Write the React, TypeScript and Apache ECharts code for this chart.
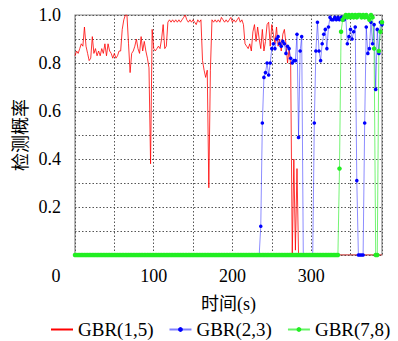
import React, { useEffect, useRef } from "react";
import * as echarts from "echarts";

// sample times (s)
const time = [
  0, 2, 4, 6, 8, 10, 12, 14, 16, 18, 20, 22, 24, 26, 28, 30, 32, 34, 36, 38,
  40, 42, 44, 46, 48, 50, 52, 54, 56, 58, 60, 62, 64, 66, 68, 70, 72, 74, 76, 78,
  80, 82, 84, 86, 88, 90, 92, 94, 96, 98, 100, 102, 104, 106, 108, 110, 112, 114, 116, 118,
  120, 122, 124, 126, 128, 130, 132, 134, 136, 138, 140, 142, 144, 146, 148, 150, 152, 154, 156, 158,
  160, 162, 164, 166, 168, 170, 172, 174, 176, 178, 180, 182, 184, 186, 188, 190, 192, 194, 196, 198,
  200, 202, 204, 206, 208, 210, 212, 214, 216, 218, 220, 222, 224, 226, 228, 230, 232, 234, 236, 238,
  240, 242, 244, 246, 248, 250, 252, 254, 256, 258, 260, 262, 264, 266, 268, 270, 272, 274, 276, 278,
  280, 282, 284, 286, 288, 290, 292, 294, 296, 298, 300, 302, 304, 306, 308, 310, 312, 314, 316, 318,
  320, 322, 324, 326, 328, 330, 332, 334, 336, 338, 340, 342, 344, 346, 348, 350, 352, 354, 356, 358,
  360, 362, 364, 366, 368, 370, 372, 374, 376, 378, 380, 382, 384, 386, 388, 390,
];

// GBR(1,5)
const gbr15 = [
  0.83, 0.85, 0.84, 0.86, 0.88, 0.87, 0.95, 0.87, 0.84, 0.81,
  0.82, 0.91, 0.84, 0.86, 0.83, 0.85, 0.83, 0.86, 0.84, 0.88,
  0.83, 0.88, 0.85, 0.84, 0.82, 0.84, 0.82, 0.83, 0.85, 0.85,
  0.94, 0.98, 1.0, 1.0, 0.88, 0.76, 0.84, 0.85, 0.87, 0.9,
  0.86, 0.84, 0.91, 0.85, 0.89, 0.85, 0.82, 0.78, 0.38, 0.94,
  0.86, 0.85, 0.86, 0.87, 0.86, 0.9, 0.96, 0.86, 0.87, 0.97,
  0.98, 0.97, 0.98, 0.97, 0.98, 0.97, 0.98, 0.97, 0.98, 0.99,
  1.0, 0.98, 0.97, 0.98, 0.97, 0.98, 0.97, 0.96, 0.98, 0.97,
  0.98, 0.81, 0.77, 0.74, 0.77, 0.28, 0.77, 0.98, 0.97, 0.98,
  0.97, 0.98, 0.97, 0.99, 0.98, 0.97, 0.98, 0.97, 0.98, 0.99,
  0.97, 0.98, 0.97, 0.98, 0.99, 0.97, 0.98, 0.96, 0.88, 0.87,
  0.86, 0.88, 0.85, 0.93, 0.96, 0.89, 0.95, 0.9, 0.86, 0.94,
  0.85, 0.89, 0.96, 0.97, 0.87, 0.96, 0.92, 0.88, 0.95, 0.87,
  0.9, 0.85, 0.92, 0.94, 0.88, 0.8, 0.86, 0.79, 0, 0.4,
  0.02, 0.36, 0, 0, 0, 0, 0, 0, 0, 0,
  0, 0, 0, 0, 0, 0, 0, 0, 0, 0,
  0, 0, 0, 0, 0, 0, 0, 0, 0, 0,
  0, 0, 0, 0, 0, 0, 0, 0, 0, 0,
  0, 0, 0, 0, 0, 0, 0, 0, 0, 0,
  0, 0, 0, 0, 0, 0,
];

// GBR(2,3)
const gbr23 = [
  0, 0, 0, 0, 0, 0, 0, 0, 0, 0, 0, 0, 0, 0, 0, 0, 0, 0, 0, 0,
  0, 0, 0, 0, 0, 0, 0, 0, 0, 0, 0, 0, 0, 0, 0, 0, 0, 0, 0, 0,
  0, 0, 0, 0, 0, 0, 0, 0, 0, 0, 0, 0, 0, 0, 0, 0, 0, 0, 0, 0,
  0, 0, 0, 0, 0, 0, 0, 0, 0, 0, 0, 0, 0, 0, 0, 0, 0, 0, 0, 0,
  0, 0, 0, 0, 0, 0, 0, 0, 0, 0, 0, 0, 0, 0, 0, 0, 0, 0, 0, 0,
  0, 0, 0, 0, 0, 0, 0, 0, 0, 0, 0, 0, 0, 0, 0, 0, 0, 0,
  0.12, 0.55, 0.74, 0.76, 0.8, 0.75, 0.8, 0.86, 0.88, 0.86,
  0.9, 0.91, 0.88, 0.87, 0.89, 0.88, 0.84, 0.87, 0.86, 0.82,
  0.8, 0.81, 0.81, 0.92, 0.49, 0.85, 0.91, 0, 0, 0,
  0, 0, 0, 0, 0.55, 0.85, 0.97, 0.85, 0.81, 0.88,
  0.92, 0.94, 0.86, 0.95, 0.99, 0.98, 0.98, 0.99, 0.98, 0.99,
  0.98, 0.99, 0.99, 0.98, 0.99, 0.88, 0.91, 0.94, 0.9, 0.93,
  0.95, 0.31, 0, 0, 0, 0, 0.55, 0.95, 0.84, 0.86,
  0.97, 0.88, 0.96, 0.69, 0.94, 0.84, 0.97, 0.96,
];

// GBR(7,8)
const gbr78 = [
  0, 0, 0, 0, 0, 0, 0, 0, 0, 0, 0, 0, 0, 0, 0, 0, 0, 0, 0, 0,
  0, 0, 0, 0, 0, 0, 0, 0, 0, 0, 0, 0, 0, 0, 0, 0, 0, 0, 0, 0,
  0, 0, 0, 0, 0, 0, 0, 0, 0, 0, 0, 0, 0, 0, 0, 0, 0, 0, 0, 0,
  0, 0, 0, 0, 0, 0, 0, 0, 0, 0, 0, 0, 0, 0, 0, 0, 0, 0, 0, 0,
  0, 0, 0, 0, 0, 0, 0, 0, 0, 0, 0, 0, 0, 0, 0, 0, 0, 0, 0, 0,
  0, 0, 0, 0, 0, 0, 0, 0, 0, 0, 0, 0, 0, 0, 0, 0, 0, 0, 0, 0,
  0, 0, 0, 0, 0, 0, 0, 0, 0, 0, 0, 0, 0, 0, 0, 0, 0, 0, 0, 0,
  0, 0, 0, 0, 0, 0, 0, 0, 0, 0, 0, 0, 0, 0, 0, 0, 0, 0, 0, 0,
  0, 0, 0, 0, 0, 0, 0, 0,
  0.36, 0.93, 0.98, 0.99, 1.0, 0.99, 1.0, 0.99, 1.0, 0.99,
  1.0, 0.99, 1.0, 1.0, 0.99, 1.0, 0.99, 1.0, 0.99, 0.98,
  1.0, 0.99, 0.86, 0, 0, 0.85, 0.93, 0.97,
];

const seriesNames = ["GBR(1,5)", "GBR(2,3)", "GBR(7,8)"];
const xLabelValues = [0, 100, 200, 300];
const yLabelValues = [0.2, 0.4, 0.6, 0.8, 1.0];

const pairs = (ys: number[]) => time.map((t, i) => [t, ys[i]]);

export default function App() {
  const ref = useRef<HTMLDivElement>(null);
  useEffect(() => {
    const chart = echarts.init(ref.current!, null, { renderer: "svg" });
    const serif = "'Liberation Serif', serif";
    const mixed = "'Liberation Serif', 'Noto Sans CJK SC', serif";
    chart.setOption({
      animation: false,
      backgroundColor: "#ffffff",
      grid: {
        left: 75,
        top: 15,
        right: 16,
        bottom: 86,
        show: true,
        borderColor: "#8a8a8a",
        borderWidth: 1.2,
        backgroundColor: "transparent",
      },
      legend: {
        data: [
          { name: seriesNames[0], itemStyle: { opacity: 0 } },
          { name: seriesNames[1] },
          { name: seriesNames[2] },
        ],
        orient: "horizontal",
        left: 50,
        top: 320,
        width: 348,
        itemGap: 15,
        itemWidth: 22,
        itemHeight: 6,
        padding: 0,
        textStyle: { fontFamily: serif, fontSize: 19, color: "#000" },
      },
      xAxis: {
        type: "value",
        min: 0,
        max: 390,
        interval: 50,
        name: "时间(s)",
        nameLocation: "middle",
        nameGap: 40,
        nameTextStyle: {
          fontFamily: mixed,
          fontSize: 18,
          color: "#000",
          verticalAlign: "top",
        },
        axisLine: { show: false },
        axisTick: { show: false },
        axisLabel: {
          margin: 12,
          fontFamily: serif,
          fontSize: 18,
          color: "#000",
          formatter: (v: number) => {
            const r = Math.round(v);
            if (Math.abs(v - r) > 1e-6 || !xLabelValues.includes(r)) return "";
            return r === 0 ? "{z|0}" : String(r);
          },
          rich: {
            z: {
              fontFamily: serif,
              fontSize: 18,
              color: "#000",
              padding: [0, 38, 0, 0],
            },
          },
        },
        splitLine: {
          show: true,
          lineStyle: { color: "#555", type: [1.5, 2], width: 1 },
        },
      },
      yAxis: {
        type: "value",
        min: 0,
        max: 1,
        interval: 0.1,
        name: "检测概率",
        nameLocation: "middle",
        nameGap: 43,
        nameTextStyle: {
          fontFamily: "'Noto Sans CJK SC', sans-serif",
          fontSize: 18,
          color: "#000",
        },
        axisLine: { show: false },
        axisTick: { show: false },
        axisLabel: {
          margin: 14,
          fontFamily: serif,
          fontSize: 18,
          color: "#000",
          formatter: (v: number) => {
            const k = Math.round(v * 10);
            const match = yLabelValues.some((y) => Math.round(y * 10) === k);
            return match ? (k / 10).toFixed(1) : "";
          },
        },
        splitLine: {
          show: true,
          lineStyle: { color: "#555", type: [1.5, 2], width: 1 },
        },
      },
      series: [
        {
          name: seriesNames[0],
          type: "line",
          data: pairs(gbr15),
          symbol: "none",
          lineStyle: { color: "#ff0000", width: 0.8 },
          itemStyle: { color: "#ff0000" },
        },
        {
          name: seriesNames[1],
          type: "line",
          data: pairs(gbr23),
          symbol: "circle",
          symbolSize: 3.6,
          showAllSymbol: true,
          lineStyle: { color: "#0000ff", width: 0.9, opacity: 0.5 },
          itemStyle: { color: "#0000ff" },
        },
        {
          name: seriesNames[2],
          type: "line",
          data: pairs(gbr78),
          symbol: "circle",
          symbolSize: 4.5,
          showAllSymbol: true,
          lineStyle: { color: "#22ee22", width: 0.9, opacity: 0.7 },
          itemStyle: { color: "#22ee22" },
        },
      ],
    });
    return () => chart.dispose();
  }, []);
  return (
    <div
      ref={ref}
      style={{ position: "fixed", left: 0, top: 0, width: 398, height: 341 }}
    />
  );
}
